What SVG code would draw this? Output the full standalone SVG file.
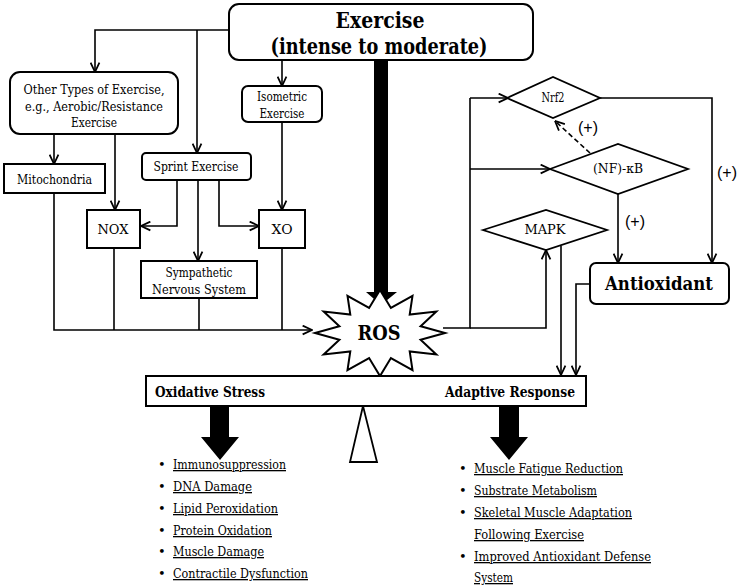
<svg xmlns="http://www.w3.org/2000/svg" width="743" height="588" viewBox="0 0 743 588">
<defs>
<marker id="ah" viewBox="0 0 10 10" refX="9.5" refY="5" markerWidth="11" markerHeight="11" markerUnits="userSpaceOnUse" orient="auto">
<path d="M1,1 L9.5,5 L1,9" fill="none" stroke="#000" stroke-width="1.6"/>
</marker>
</defs>
<style>
.box{fill:#fff;stroke:#000;stroke-width:2}
.dia{fill:#fff;stroke:#000;stroke-width:1.8}
.t{font-size:13px;fill:#000;text-anchor:middle}
.s{font-size:12px}
.b{font-weight:bold}
.ln{fill:none;stroke:#000;stroke-width:1.6}
.ar{marker-end:url(#ah)}
.p{font-size:16px;fill:#000;text-anchor:middle}
.li{font-size:13px;fill:#000;text-decoration:underline}
.bu{font-size:13px;fill:#000}
</style>
<rect width="743" height="588" fill="#fff"/>

<g id="connectors">
<path class="ln ar" d="M229,30 H95 V72"/>
<path class="ln ar" d="M197,30 V153"/>
<path class="ln ar" d="M282,60 V86"/>
<path class="ln ar" d="M54,134 V164"/>
<path class="ln ar" d="M115,134 V210"/>
<path class="ln ar" d="M282,122 V210"/>
<path class="ln ar" d="M177,180 V226 H141"/>
<path class="ln ar" d="M198,180 V261"/>
<path class="ln ar" d="M219,180 V226 H259"/>
<path class="ln ar" d="M54,193 V330 H312"/>
<path class="ln" d="M114,248 V330"/>
<path class="ln" d="M199,298 V330"/>
<path class="ln" d="M282,248 V330"/>
<path class="ln" d="M443,328 H470 V98"/>
<path class="ln ar" d="M470,98 H508"/>
<path class="ln ar" d="M470,169 H550"/>
<path class="ln ar" d="M470,328 H546 V250"/>
<path class="ln ar" d="M600,98 H712 V263"/>
<path class="ln ar" d="M618,194 V263"/>
<path class="ln ar" d="M590,153 L555,121" stroke-dasharray="5,3"/>
<path class="ln ar" d="M561,246 V375"/>
<path class="ln ar" d="M590,284 H576 V375"/>
<path d="M374,60 H388 V292 H397 L381,305 L366,292 H374 Z" fill="#000"/>
<path d="M210,406 H229 V437 H239 L220,460 L201,437 H210 Z" fill="#000"/>
<path d="M499,406 H519 V437 H528 L509,460 L490,437 H499 Z" fill="#000"/>
</g>

<g font-family="'DejaVu Serif', serif">
<g id="exercise">
<rect class="box" x="229" y="4" width="304" height="56" rx="10"/>
<text class="t b" x="380" y="28" style="font-size:22px" textLength="89" lengthAdjust="spacingAndGlyphs">Exercise</text>
<text class="t b" x="379" y="54" style="font-size:22px" textLength="217" lengthAdjust="spacingAndGlyphs">(intense to moderate)</text>
</g>

<g id="other-types">
<rect class="box" x="10" y="72" width="168" height="62" rx="10"/>
<text class="t" x="94" y="94" textLength="141" lengthAdjust="spacingAndGlyphs">Other Types of Exercise,</text>
<text class="t" x="94" y="111" textLength="138" lengthAdjust="spacingAndGlyphs">e.g., Aerobic/Resistance</text>
<text class="t" x="94" y="127" textLength="46" lengthAdjust="spacingAndGlyphs">Exercise</text>
</g>

<g id="isometric">
<rect class="box" x="242" y="86" width="80" height="36" rx="6"/>
<text class="t" x="282" y="101" textLength="50" lengthAdjust="spacingAndGlyphs">Isometric</text>
<text class="t" x="282" y="118" textLength="45" lengthAdjust="spacingAndGlyphs">Exercise</text>
</g>

<g id="mitochondria">
<rect class="box" x="4" y="164" width="101" height="29"/>
<text class="t" x="54.5" y="184" textLength="75" lengthAdjust="spacingAndGlyphs">Mitochondria</text>
</g>

<g id="sprint">
<rect class="box" x="142" y="153" width="109" height="27" rx="4"/>
<text class="t" x="196" y="171" textLength="85" lengthAdjust="spacingAndGlyphs">Sprint Exercise</text>
</g>

<g id="nox">
<rect class="box" x="87" y="210" width="53" height="38"/>
<text class="t" x="113" y="234" textLength="31" lengthAdjust="spacingAndGlyphs">NOX</text>
</g>

<g id="xo">
<rect class="box" x="259" y="210" width="46" height="38"/>
<text class="t" x="282" y="234" textLength="21" lengthAdjust="spacingAndGlyphs">XO</text>
</g>

<g id="sns">
<rect class="box" x="141" y="261" width="116" height="37"/>
<text class="t" x="199" y="277" textLength="67" lengthAdjust="spacingAndGlyphs">Sympathetic</text>
<text class="t" x="199" y="294" textLength="94" lengthAdjust="spacingAndGlyphs">Nervous System</text>
</g>

<g id="ros">
<polygon points="445,333 420.6,339.7 436.3,354.5 409.7,351.4 412.5,370.2 390.9,358.1 380,376 369.1,358.1 347.5,370.2 350.3,351.4 323.7,354.5 339.4,339.7 315,333 339.4,326.3 323.7,311.5 350.3,314.6 347.5,295.8 369.1,307.9 380,290 390.9,307.9 412.5,295.8 409.7,314.6 436.3,311.5 420.6,326.3" fill="#fff" stroke="#000" stroke-width="2"/>
<text class="t b" x="379" y="340" style="font-size:20px" textLength="43" lengthAdjust="spacingAndGlyphs">ROS</text>
</g>

<g id="nrf2">
<polygon class="dia" points="507,98 553,77 600,98 553,118"/>
<text class="t s" x="553" y="102" textLength="23" lengthAdjust="spacingAndGlyphs">Nrf2</text>
</g>

<g id="nfkb">
<polygon class="dia" points="550,169 618,144 688,169 618,194"/>
<text class="t s" x="618" y="173" textLength="50" lengthAdjust="spacingAndGlyphs">(NF)-κB</text>
</g>

<g id="mapk">
<polygon class="dia" points="483,230 546,210 607,230 546,250"/>
<text class="t s" x="545" y="234" textLength="41" lengthAdjust="spacingAndGlyphs">MAPK</text>
</g>

<g id="antioxidant">
<rect class="box" x="590" y="263" width="139" height="41" rx="6"/>
<text class="t b" x="659" y="290" style="font-size:19px" textLength="108" lengthAdjust="spacingAndGlyphs">Antioxidant</text>
</g>

<g id="balance">
<rect class="box" x="146" y="376" width="440" height="30"/>
<text class="t b" x="155" y="397" style="font-size:15px;text-anchor:start" textLength="110" lengthAdjust="spacingAndGlyphs">Oxidative Stress</text>
<text class="t b" x="445" y="397" style="font-size:15px;text-anchor:start" textLength="130" lengthAdjust="spacingAndGlyphs">Adaptive Response</text>
<polygon points="363,406 350,462 377,462" fill="#fff" stroke="#000" stroke-width="1.8"/>
</g>

<g id="oxidative-list">
<text class="bu" x="158" y="469">•</text><text class="li" x="173" y="469" textLength="113" lengthAdjust="spacingAndGlyphs">Immunosuppression</text>
<text class="bu" x="158" y="491">•</text><text class="li" x="173" y="491" textLength="79" lengthAdjust="spacingAndGlyphs">DNA Damage</text>
<text class="bu" x="158" y="513">•</text><text class="li" x="173" y="513" textLength="105" lengthAdjust="spacingAndGlyphs">Lipid  Peroxidation</text>
<text class="bu" x="158" y="535">•</text><text class="li" x="173" y="535" textLength="99" lengthAdjust="spacingAndGlyphs">Protein  Oxidation</text>
<text class="bu" x="158" y="556">•</text><text class="li" x="173" y="556" textLength="91" lengthAdjust="spacingAndGlyphs">Muscle  Damage</text>
<text class="bu" x="158" y="578">•</text><text class="li" x="173" y="578" textLength="135" lengthAdjust="spacingAndGlyphs">Contractile  Dysfunction</text>
</g>

<g id="adaptive-list">
<text class="bu" x="459" y="473">•</text><text class="li" x="474" y="473" textLength="149" lengthAdjust="spacingAndGlyphs">Muscle  Fatigue  Reduction</text>
<text class="bu" x="459" y="495">•</text><text class="li" x="474" y="495" textLength="123" lengthAdjust="spacingAndGlyphs">Substrate  Metabolism</text>
<text class="bu" x="459" y="517">•</text><text class="li" x="474" y="517" textLength="158" lengthAdjust="spacingAndGlyphs">Skeletal  Muscle  Adaptation</text>
<text class="li" x="474" y="539" textLength="110" lengthAdjust="spacingAndGlyphs">Following  Exercise</text>
<text class="bu" x="459" y="561">•</text><text class="li" x="474" y="561" textLength="177" lengthAdjust="spacingAndGlyphs">Improved Antioxidant  Defense</text>
<text class="li" x="474" y="582" textLength="39" lengthAdjust="spacingAndGlyphs">System</text>
</g>
</g>

<g id="labels" font-family="'Liberation Sans', 'DejaVu Sans', sans-serif">
<text class="p" x="588" y="133">(+)</text>
<text class="p" x="727" y="178">(+)</text>
<text class="p" x="635" y="227">(+)</text>
</g>
</svg>
